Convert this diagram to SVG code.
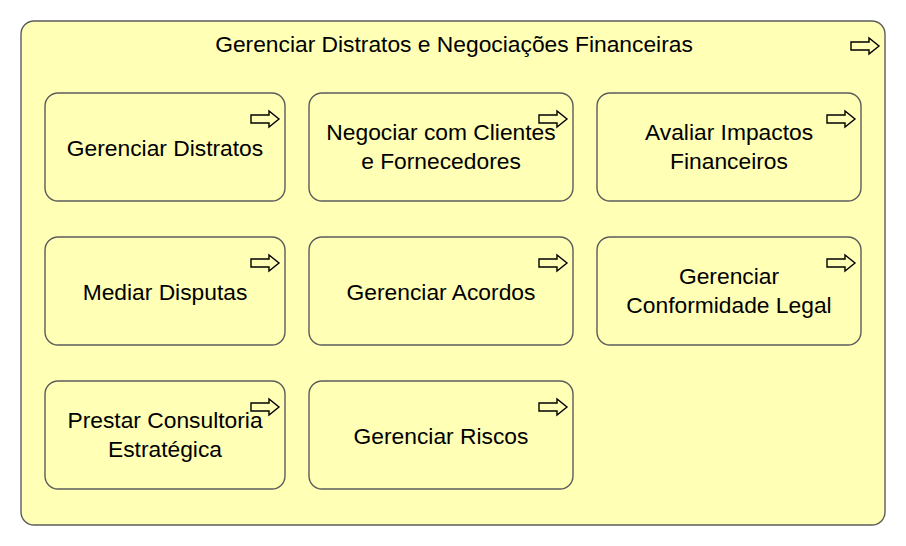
<svg xmlns="http://www.w3.org/2000/svg" width="906" height="546" viewBox="0 0 906 546">
<defs>
<style>
.box{fill:#ffffb5;stroke:#5c5c5c;stroke-width:1.4}
.ico{fill:#ffffb5;stroke:#000;stroke-width:1.4;stroke-linejoin:miter}
.lbl{font-family:"Liberation Sans",Arial,sans-serif;font-size:22.8px;fill:#000;text-anchor:middle}
</style>
<path id="arr" d="M0,4 H18 V0 L28,8 L18,16 V12 H0 Z"/>
</defs>
<rect width="906" height="546" fill="#ffffff"/>
<g id="container">
<rect class="box" x="21" y="21" width="864" height="504" rx="13" ry="13"/>
<text class="lbl" x="454" y="52">Gerenciar Distratos e Negociações Financeiras</text>
<use href="#arr" class="ico" x="851" y="38"/>
</g>
<g id="n1">
<rect class="box" x="45" y="93" width="240" height="108" rx="13" ry="13"/>
<text class="lbl" x="165" y="156">Gerenciar Distratos</text>
<use href="#arr" class="ico" x="251" y="111"/>
</g>
<g id="n2">
<rect class="box" x="309" y="93" width="264" height="108" rx="13" ry="13"/>
<text class="lbl" x="441" y="140">Negociar com Clientes</text>
<text class="lbl" x="441" y="169">e Fornecedores</text>
<use href="#arr" class="ico" x="539" y="111"/>
</g>
<g id="n3">
<rect class="box" x="597" y="93" width="264" height="108" rx="13" ry="13"/>
<text class="lbl" x="729" y="140">Avaliar Impactos</text>
<text class="lbl" x="729" y="169">Financeiros</text>
<use href="#arr" class="ico" x="827" y="111"/>
</g>
<g id="n4">
<rect class="box" x="45" y="237" width="240" height="108" rx="13" ry="13"/>
<text class="lbl" x="165" y="300">Mediar Disputas</text>
<use href="#arr" class="ico" x="251" y="255"/>
</g>
<g id="n5">
<rect class="box" x="309" y="237" width="264" height="108" rx="13" ry="13"/>
<text class="lbl" x="441" y="300">Gerenciar Acordos</text>
<use href="#arr" class="ico" x="539" y="255"/>
</g>
<g id="n6">
<rect class="box" x="597" y="237" width="264" height="108" rx="13" ry="13"/>
<text class="lbl" x="729" y="284">Gerenciar</text>
<text class="lbl" x="729" y="313">Conformidade Legal</text>
<use href="#arr" class="ico" x="827" y="255"/>
</g>
<g id="n7">
<rect class="box" x="45" y="381" width="240" height="108" rx="13" ry="13"/>
<text class="lbl" x="165" y="428">Prestar Consultoria</text>
<text class="lbl" x="165" y="457">Estratégica</text>
<use href="#arr" class="ico" x="251" y="399"/>
</g>
<g id="n8">
<rect class="box" x="309" y="381" width="264" height="108" rx="13" ry="13"/>
<text class="lbl" x="441" y="444">Gerenciar Riscos</text>
<use href="#arr" class="ico" x="539" y="399"/>
</g>
<g id="connectors"/>
</svg>
